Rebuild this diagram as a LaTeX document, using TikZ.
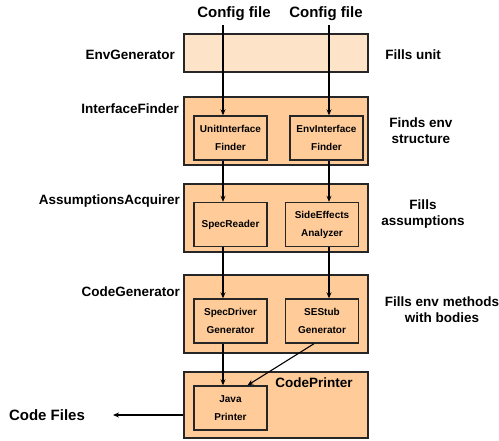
\documentclass[tikz,border=0pt]{standalone}
\usepackage{fontspec}
\setmainfont{Liberation Sans}
\usetikzlibrary{
  arrows.meta,
  positioning,
}
\definecolor{stageFill}{HTML}{FFCC99}
\definecolor{paleFill}{HTML}{FDE3C8}
\tikzset{
  stage box/.style = {
    draw=black!85,
    line width=1.4pt,
    fill=stageFill,
    minimum width=184pt,
    inner sep=0pt
  },
  part box/.style = {
    draw=black!85,
    line width=1.4pt,
    fill=stageFill,
    minimum width=73pt,
    minimum height=44pt,
    inner sep=0pt,
    align=center,
    font=\fontsize{10}{18}\selectfont\bfseries
  },
  stage label/.style = {
    anchor=east,
    inner sep=0pt,
    font=\fontsize{13.5}{16}\selectfont\bfseries
  },
  note label/.style = {
    align=center,
    inner sep=0pt,
    font=\fontsize{13.5}{16}\selectfont\bfseries
  },
  flow/.style = {
    -{Stealth[length=6pt,width=5pt]},
    line width=1.1pt
  },
}

\begin{document}
\begin{tikzpicture}[x=1pt, y=-1pt]
  \useasboundingbox (0,0) rectangle (499,440);
  %% stages
  \node (envgen) [stage box, fill=paleFill, minimum height=38pt] at (276,53) {};
  \node (ifind) [stage box, minimum height=68pt] at (276,131) {};
  \node (assum) [stage box, minimum height=68pt] at (276,218) {};
  \node (codegen) [stage box, minimum height=78pt] at (276,314) {};
  \node (codeprint) [stage box, minimum height=66pt] at (276,405) {};
  %% parts
  \node (unitif) [part box] at (230.5,138) {UnitInterface\\Finder};
  \node (envif) [part box] at (326.5,138) {EnvInterface\\Finder};
  \node (specrd) [part box] at (230.5,224.5) {SpecReader};
  \node (sideeff) [part box] at (322,224.5) {SideEffects\\Analyzer};
  \node (specdrv) [part box] at (230.5,321) {SpecDriver\\Generator};
  \node (sestub) [part box] at (322,321) {SEStub\\Generator};
  \node (javapr) [part box] at (230.5,408) {Java\\Printer};
  %% stage names
  \node (lenv) [stage label] at (175,55) {EnvGenerator};
  \node (lif) [stage label] at (179,109) {InterfaceFinder};
  \node (las) [stage label] at (180,201) {AssumptionsAcquirer};
  \node (lcg) [stage label] at (180,292) {CodeGenerator};
  \node (lcp) [note label] at (314,383) {CodePrinter};
  %% notes
  \node (nenv) [note label] at (413,55) {Fills unit};
  \node (nif) [note label] at (421,131) {Finds env\\structure};
  \node (nas) [note label] at (423,214) {Fills\\assumptions};
  \node (ncg) [note label] at (442,310) {Fills env methods\\with bodies};
  %% inputs and output
  \node (cfgA) [note label, font=\fontsize{15}{16}\selectfont\bfseries] at (234,14) {Config file};
  \node (cfgB) [note label, font=\fontsize{15}{16}\selectfont\bfseries] at (326,14) {Config file};
  \node (outf) [note label, font=\fontsize{15}{16}\selectfont\bfseries] at (47,415) {Code Files};
  \coordinate (inA) at (223,25);
  \coordinate (inB) at (329,25);
  \coordinate (outp) at (113,415);
  %% flows
  \draw[flow] (inA) -- (inA |- unitif.north);
  \draw[flow] (inB) -- (inB |- envif.north);
  \draw[flow] (inA |- unitif.south) -- (inA |- specrd.north);
  \draw[flow] (inB |- envif.south) -- (inB |- sideeff.north);
  \draw[flow] (inA |- specrd.south) -- (inA |- specdrv.north);
  \draw[flow] (inB |- sideeff.south) -- (inB |- sestub.north);
  \draw[flow] (inA |- specdrv.south) -- (inA |- javapr.north);
  \draw[flow] ([xshift=-8pt]sestub.south) -- ([xshift=17pt]javapr.north);
  \draw[flow] (outp -| codeprint.west) -- (outp);
\end{tikzpicture}
\end{document}
